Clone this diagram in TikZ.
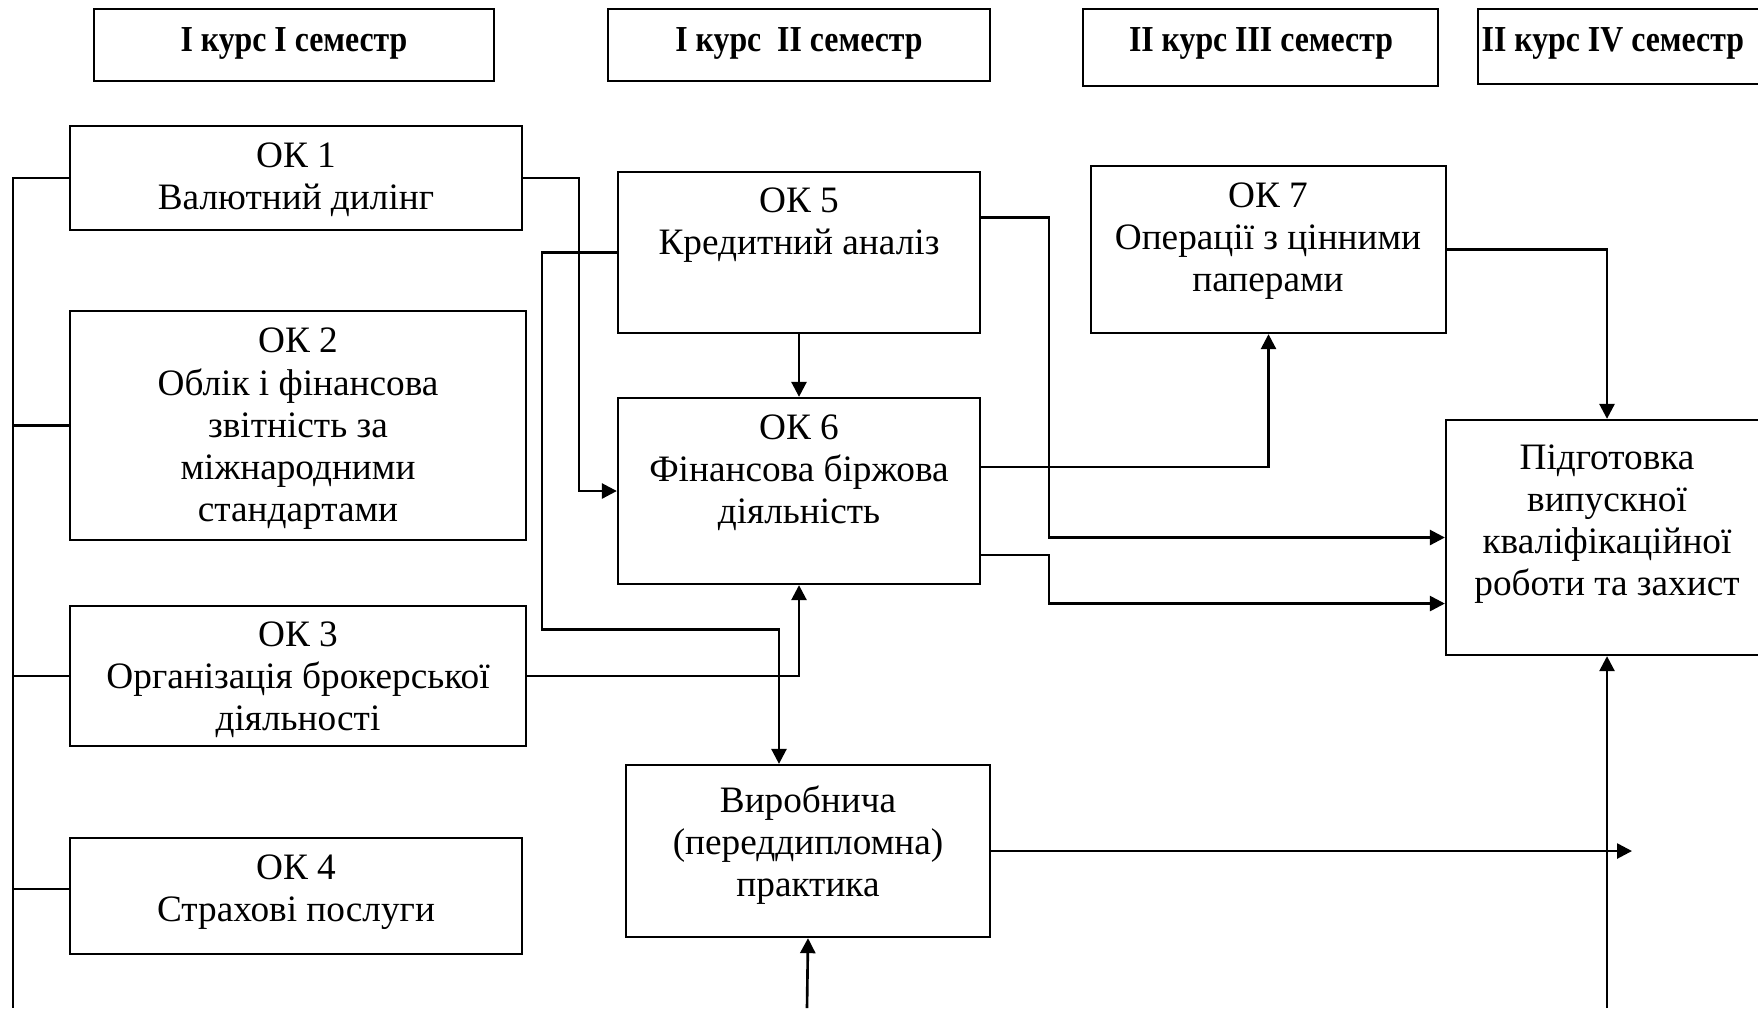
\documentclass[tikz,border=0pt]{standalone}
\usepackage{fontspec}
\setmainfont{Liberation Serif}
\newfontfamily\headfont{Liberation Serif}[FakeStretch=0.87]
\usetikzlibrary{arrows.meta,fit}

\begin{document}
\begin{tikzpicture}[x=0.01cm,y=-0.01cm,
    box/.style={draw,line width=0.65pt,inner sep=0pt},
    txt/.style={align=center,inner sep=0pt,font=\fontsize{10.6}{12}\selectfont},
    head/.style={inner sep=0pt,font=\headfont\bfseries\fontsize{10.4}{12}\selectfont},
    con/.style={line width=0.75pt},
    arr/.style={line width=0.75pt,-{Triangle[length=1.5mm,width=1.5mm]}}]
\useasboundingbox (0,0) rectangle (1758,1008);

\node[box,fit={(94,9) (494,81)}] (h1) {};
\node[box,fit={(608,9) (990,81)}] (h2) {};
\node[box,fit={(1083,9) (1438,86)}] (h3) {};
\node[box,fit={(1478,9) (1800,84)}] (h4) {};
\node[head] (h1t) at (294,43) {I курс I семестр};
\node[head] (h2t) at (799,43) {I курс \ II семестр};
\node[head] (h3t) at (1261,43) {II курс III семестр};
\node[head,anchor=west] (h4t) at (1481,43) {II курс IV семестр};

\node[box,fit={(70,126) (522,230)}] (ok1) {};
\node[box,fit={(70,311) (526,540)}] (ok2) {};
\node[box,fit={(70,606) (526,746)}] (ok3) {};
\node[box,fit={(70,838) (522,954)}] (ok4) {};
\node[box,fit={(618,172) (980,333)}] (ok5) {};
\node[box,fit={(618,398) (980,584)}] (ok6) {};
\node[box,fit={(1091,166) (1446,333)}] (ok7) {};
\node[box,fit={(626,765) (990,937)}] (prak) {};
\node[box,fit={(1446,420) (1768,655)}] (fin) {};

\node[txt] (ok1t) at (296,180) {ОК 1\\Валютний дилінг};
\node[txt] (ok2t) at (298,429) {ОК 2\\Облік і фінансова\\звітність за\\міжнародними\\стандартами};
\node[txt] (ok3t) at (298,680) {ОК 3\\Організація брокерської\\діяльності};
\node[txt] (ok4t) at (296,892) {ОК 4\\Страхові послуги};
\node[txt] (ok5t) at (799,225) {ОК 5\\Кредитний аналіз};
\node[txt] (ok6t) at (799,473) {ОК 6\\Фінансова біржова\\діяльність};
\node[txt] (ok7t) at (1268,241) {ОК 7\\Операції з цінними\\паперами};
\node[txt] (fint) at (1607,524) {Підготовка\\випускної\\кваліфікаційної\\роботи та захист};
\node[txt] (prakt) at (808,845) {Виробнича\\(переддипломна)\\практика};

\coordinate (busend) at (13,1008);
\coordinate (prin) at (807,1008);
\coordinate (finin) at (1607,1008);
\coordinate (prout) at (1632,851);

\draw[con] (ok1.west) -| (busend);
\draw[con] (ok2.west) -- (ok2.west -| busend);
\draw[con] (ok3.west) -- (ok3.west -| busend);
\draw[con] ([yshift=0.7mm]ok4.west) -- ++(-57,0);

\draw[arr] (ok1.east) -- ++(56,0) |- (ok6.west);
\draw[arr] (ok5.west) -- ++(-75,0) -- ++(0,377) -| ([xshift=-2.9mm]prak.north);
\draw[arr] (ok5.south) -- (ok6.north);
\draw[arr] (ok3.east) -| (ok6.south);
\draw[arr] ([yshift=3.5mm]ok5.east) -- ++(68,0) |- (fin.west);
\draw[arr] ([yshift=2.4mm]ok6.east) -| (ok7.south);
\draw[arr] ([yshift=-6.4mm]ok6.east) -- ++(68,0) |- ([yshift=-6.6mm]fin.west);
\draw[arr] (ok7.east) -| (fin.north);
\draw[arr] (finin) -- (fin.south);
\draw[arr] (prin) -- (prak.south);
\draw[arr] (prak.east) -- (prout);
\end{tikzpicture}
\end{document}
